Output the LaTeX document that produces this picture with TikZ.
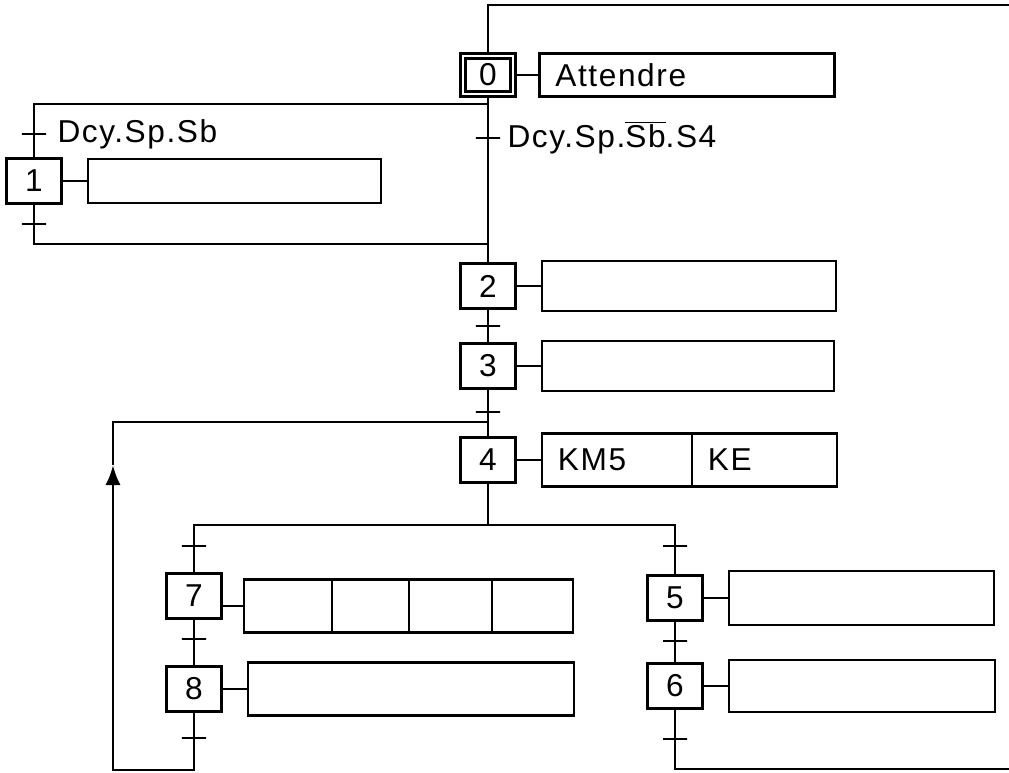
\documentclass[tikz,border=0pt]{standalone}
\usepackage{fontspec}
\setmainfont{Liberation Sans}[LetterSpace=5]
\usetikzlibrary{arrows.meta,positioning}
\newcommand{\nonbarre}[1]{$\overline{\hbox{#1}}$}

\begin{document}
\begin{tikzpicture}[
  x=0.025cm, y=-0.025cm,
  line width=2pt,
  node distance=0.625cm,
  every node/.style={font=\fontsize{22.5}{26}\selectfont},
  etape/.style={draw, minimum width=1.375cm, minimum height=1.125cm, inner sep=0pt},
  initiale/.style={etape, double, double distance=2pt, minimum width=1.25cm, minimum height=0.95cm},
  action/.style={draw, minimum height=1.25cm, outer sep=0pt, inner xsep=0.4cm, align=left},
  trans/.style={draw, minimum width=0.6cm, minimum height=0pt, inner sep=0pt},
  fleche/.style={-{Latex[length=0.5cm,width=0.38cm]}}
]
  \useasboundingbox (0,0) rectangle (1009,773);

  % etapes et actions
  \node[initiale] (s0) at (488,75) {0};
  \node[action, right=of s0, text width=6.575cm, minimum height=1.075cm] (a0) {Attendre};
  \node[etape] (s1) at (34,181) {1};
  \node[action, right=of s1, minimum width=7.325cm, minimum height=1.1cm] (a1) {};
  \node[etape] (s2) at (488,286) {2};
  \node[action, right=of s2, minimum width=7.35cm] (a2) {};
  \node[etape] (s3) at (488,366) {3};
  \node[action, right=of s3, minimum width=7.3cm] (a3) {};
  \node[etape] (s4) at (488,460) {4};
  \node[action, right=of s4, text width=2.95cm, minimum height=1.325cm] (a4a) {KM5};
  \node[action, right=0pt of a4a, text width=2.825cm, minimum height=1.325cm] (a4b) {KE};
  \node[etape] (s7) at (194,596) {7};
  \node[action, right=0.525cm of s7, yshift=-0.25cm, minimum width=2.2cm, minimum height=1.325cm] (a7a) {};
  \node[action, right=0pt of a7a, minimum width=1.925cm, minimum height=1.325cm] (a7b) {};
  \node[action, right=0pt of a7b, minimum width=2.075cm, minimum height=1.325cm] (a7c) {};
  \node[action, right=0pt of a7c, minimum width=2.025cm, minimum height=1.325cm] (a7d) {};
  \node[etape] (s8) at (194,689) {8};
  \node[action, right=of s8, minimum width=8.15cm, minimum height=1.325cm] (a8) {};
  \node[etape] (s5) at (675,598) {5};
  \node[action, right=of s5, minimum width=6.625cm, minimum height=1.35cm] (a5) {};
  \node[etape] (s6) at (675,686) {6};
  \node[action, right=of s6, minimum width=6.65cm, minimum height=1.3cm] (a6) {};

  % transitions
  \node[trans, label={[label distance=0.1cm]right:Dcy.Sp.Sb}] (t1) at (34,134) {};
  \node[trans, label={[label distance=0cm]right:Dcy.Sp.\nonbarre{Sb}.S4}] (t2) at (488,138) {};
  \node[trans] (t1b) at (34,224) {};
  \node[trans] (t23) at (488,326) {};
  \node[trans] (t34) at (488,412) {};
  \node[trans] (t7) at (194,546) {};
  \node[trans] (t78) at (194,639) {};
  \node[trans] (t8) at (194,738) {};
  \node[trans] (t5) at (675,546) {};
  \node[trans] (t56) at (675,641) {};
  \node[trans] (t6) at (675,739) {};

  \coordinate (haut) at (1009,5);
  \coordinate (div0) at (488,104);
  \coordinate (conv0) at (488,244);
  \coordinate (ret4) at (488,422);
  \coordinate (div4) at (488,525);
  \coordinate (bas8) at (113,770);
  \coordinate (pointe) at (113,465);
  \coordinate (bas6) at (1009,769);

  % liaisons
  \draw (haut) -| (s0);
  \draw (s0) -- (s2);
  \draw (div0) -| (s1);
  \draw (s1) |- (conv0);
  \draw (s2) -- (s3);
  \draw (s3) -- (s4);
  \draw (s4) -- (div4);
  \draw (s7) |- (div4) -| (s5);
  \draw (s7) -- (s8);
  \draw[fleche] (s8) |- (bas8) -- (pointe);
  \draw (pointe) |- (ret4);
  \draw (s5) -- (s6);
  \draw (s6) |- (bas6);

  \draw (s0) -- (a0);
  \draw (s1) -- (a1);
  \draw (s2) -- (a2);
  \draw (s3) -- (a3);
  \draw (s4) -- (a4a);
  \draw (s7.east |- a7a.west) -- (a7a.west);
  \draw (s8) -- (a8);
  \draw (s5) -- (a5);
  \draw (s6) -- (a6);
\end{tikzpicture}
\end{document}
